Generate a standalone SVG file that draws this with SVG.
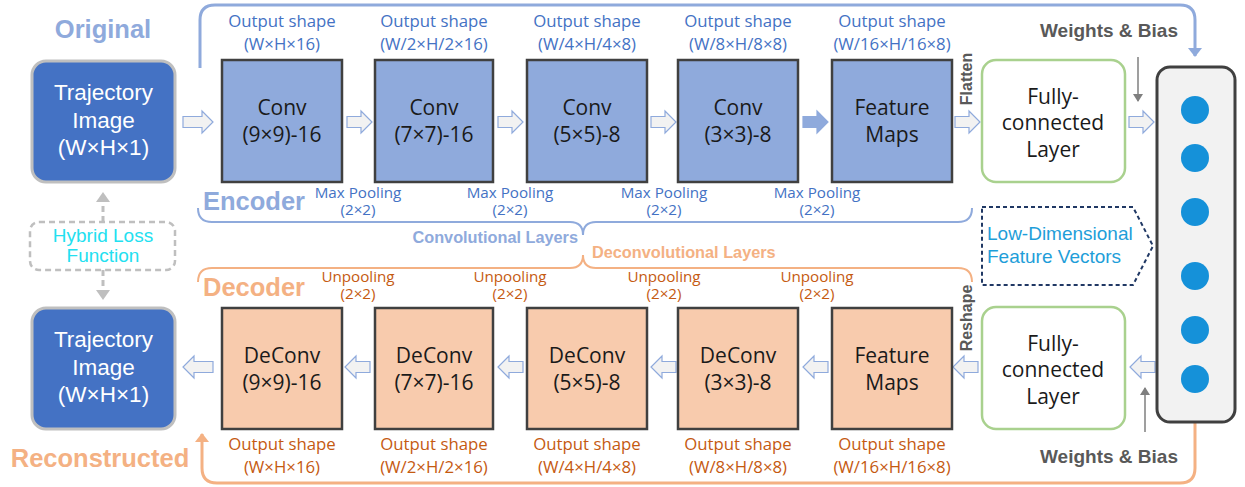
<svg xmlns="http://www.w3.org/2000/svg" width="1245" height="487" viewBox="0 0 1245 487">
<style>
.enc{fill:#8FAADC;stroke:#404040;stroke-width:2.5}
.dec{fill:#F8CBAD;stroke:#404040;stroke-width:2.5}
.traj{fill:#4472C4;stroke:#BFBFBF;stroke-width:3}
.fc{fill:#FFFFFF;stroke:#A9D18E;stroke-width:2.5}
.bt{font-family:"Open Sans","Noto Sans",sans-serif;font-size:21px;fill:#1a1a1a;text-anchor:middle}
.tt{font-family:"Liberation Sans",Arial,sans-serif;font-size:22.5px;fill:#FFFFFF;text-anchor:middle}
.bl{font-family:"Open Sans","Noto Sans",sans-serif;font-size:16.8px;fill:#4472C4;text-anchor:middle}
.or{font-family:"Open Sans","Noto Sans",sans-serif;font-size:16.8px;fill:#C55A11;text-anchor:middle}
.sm{font-size:15.2px}
.big{font-family:"Liberation Sans",Arial,sans-serif;font-weight:bold;font-size:25.5px}
.gb{font-family:"Liberation Sans",Arial,sans-serif;font-weight:bold;fill:#595959}
.ar{fill:#F2F2F2;stroke:#8FAADC;stroke-width:1.2}
.arf{fill:#8FAADC;stroke:#8FAADC;stroke-width:1.2}
</style>
<defs>
<path id="ra" d="M0,-5.5 H14 V-11 L25,0 L14,11 V5.5 H0 Z"/>
<path id="ral" d="M0,-5.5 H19 V-11 L30,0 L19,11 V5.5 H0 Z"/>
<marker id="mb" markerUnits="userSpaceOnUse" markerWidth="18" markerHeight="18" refX="8" refY="8" orient="auto"><path d="M0,1 L9,8 L0,15 Z" fill="#8FAADC"/></marker>
<marker id="mo" markerUnits="userSpaceOnUse" markerWidth="18" markerHeight="18" refX="8" refY="8" orient="auto"><path d="M0,1 L9,8 L0,15 Z" fill="#F4B183"/></marker>
<marker id="mg" markerUnits="userSpaceOnUse" markerWidth="14" markerHeight="14" refX="7" refY="6" orient="auto"><path d="M0,1 L8,6 L0,11 Z" fill="#7F7F7F"/></marker>
<marker id="ml" markerUnits="userSpaceOnUse" markerWidth="18" markerHeight="18" refX="8" refY="8" orient="auto"><path d="M0,1 L10,8 L0,15 Z" fill="#BFBFBF"/></marker>
</defs>

<g id="connectors">
<path d="M200,68 V20 Q200,5 215,5 H1180 Q1195,5 1195,20 V56" fill="none" stroke="#8FAADC" stroke-width="3" marker-end="url(#mb)"/>
<path d="M1195,422 V468 Q1195,483 1180,483 H217 Q202,483 202,468 V434" fill="none" stroke="#F4B183" stroke-width="3" marker-end="url(#mo)"/>
<path d="M198,208 Q198,222 212,222 H570 Q583,222 583,235 Q583,222 596,222 H958 Q972,222 972,208" fill="none" stroke="#8FAADC" stroke-width="2"/>
<path d="M198,282 Q198,268 212,268 H570 Q583,268 583,255 Q583,268 596,268 H958 Q972,268 972,282" fill="none" stroke="#F4B183" stroke-width="2"/>
<line x1="1138" y1="57" x2="1138" y2="101" stroke="#7F7F7F" stroke-width="1.5" marker-end="url(#mg)"/>
<line x1="1145" y1="432" x2="1145" y2="388" stroke="#7F7F7F" stroke-width="1.5" marker-end="url(#mg)"/>
<line x1="103" y1="222" x2="103" y2="194" stroke="#BFBFBF" stroke-width="3" stroke-dasharray="6,4" marker-end="url(#ml)"/>
<line x1="103" y1="270" x2="103" y2="298" stroke="#BFBFBF" stroke-width="3" stroke-dasharray="6,4" marker-end="url(#ml)"/>
<use href="#ral" class="ar" transform="translate(183,122)"/>
<use href="#ra" class="ar" transform="translate(347,122)"/>
<use href="#ra" class="ar" transform="translate(498,122)"/>
<use href="#ra" class="ar" transform="translate(651,122)"/>
<use href="#ra" class="arf" transform="translate(803,122)"/>
<use href="#ra" class="ar" transform="translate(955,122)"/>
<use href="#ra" class="ar" transform="translate(1129,122)"/>
<use href="#ral" class="ar" transform="translate(213,367) scale(-1,1)"/>
<use href="#ra" class="ar" transform="translate(370,367) scale(-1,1)"/>
<use href="#ra" class="ar" transform="translate(523,367) scale(-1,1)"/>
<use href="#ra" class="ar" transform="translate(676,367) scale(-1,1)"/>
<use href="#ra" class="ar" transform="translate(828,367) scale(-1,1)"/>
<use href="#ra" class="ar" transform="translate(978,367) scale(-1,1)"/>
<use href="#ra" class="ar" transform="translate(1155,367) scale(-1,1)"/>
</g>

<g id="labels">
<text x="103" y="38" class="big" fill="#8FAADC" text-anchor="middle">Original</text>
<text x="203" y="210" class="big" fill="#8FAADC">Encoder</text>
<text x="203" y="296" class="big" fill="#F4B183">Decoder</text>
<text x="100" y="467" class="big" fill="#F4B183" text-anchor="middle">Reconstructed</text>
<text x="578" y="243" class="gb" font-size="16.3" style="fill:#8FAADC" text-anchor="end">Convolutional Layers</text>
<text x="592" y="258" class="gb" font-size="16.3" style="fill:#F4B183">Deconvolutional Layers</text>
<text x="1109" y="37" class="gb" font-size="19" text-anchor="middle">Weights &amp; Bias</text>
<text x="1109" y="463" class="gb" font-size="19" text-anchor="middle">Weights &amp; Bias</text>
<text transform="translate(972,79) rotate(-90)" class="gb" font-size="16" text-anchor="middle">Flatten</text>
<text transform="translate(972,318) rotate(-90)" class="gb" font-size="16" text-anchor="middle">Reshape</text>

<text x="282" y="27" class="bl">Output shape</text><text x="282" y="50" class="bl">(W×H×16)</text>
<text x="434" y="27" class="bl">Output shape</text><text x="434" y="50" class="bl">(W/2×H/2×16)</text>
<text x="587" y="27" class="bl">Output shape</text><text x="587" y="50" class="bl">(W/4×H/4×8)</text>
<text x="738" y="27" class="bl">Output shape</text><text x="738" y="50" class="bl">(W/8×H/8×8)</text>
<text x="892" y="27" class="bl">Output shape</text><text x="892" y="50" class="bl">(W/16×H/16×8)</text>

<text x="358" y="198" class="bl sm">Max Pooling</text><text x="358" y="215" class="bl sm">(2×2)</text>
<text x="510" y="198" class="bl sm">Max Pooling</text><text x="510" y="215" class="bl sm">(2×2)</text>
<text x="664" y="198" class="bl sm">Max Pooling</text><text x="664" y="215" class="bl sm">(2×2)</text>
<text x="817" y="198" class="bl sm">Max Pooling</text><text x="817" y="215" class="bl sm">(2×2)</text>

<text x="358" y="282" class="or sm">Unpooling</text><text x="358" y="299" class="or sm">(2×2)</text>
<text x="510" y="282" class="or sm">Unpooling</text><text x="510" y="299" class="or sm">(2×2)</text>
<text x="664" y="282" class="or sm">Unpooling</text><text x="664" y="299" class="or sm">(2×2)</text>
<text x="817" y="282" class="or sm">Unpooling</text><text x="817" y="299" class="or sm">(2×2)</text>

<text x="282" y="450" class="or">Output shape</text><text x="282" y="473" class="or">(W×H×16)</text>
<text x="434" y="450" class="or">Output shape</text><text x="434" y="473" class="or">(W/2×H/2×16)</text>
<text x="587" y="450" class="or">Output shape</text><text x="587" y="473" class="or">(W/4×H/4×8)</text>
<text x="738" y="450" class="or">Output shape</text><text x="738" y="473" class="or">(W/8×H/8×8)</text>
<text x="892" y="450" class="or">Output shape</text><text x="892" y="473" class="or">(W/16×H/16×8)</text>
</g>

<g id="traj-in"><rect x="32" y="61" width="143" height="121" rx="14" class="traj"/>
<text x="103.5" y="100" class="tt">Trajectory</text><text x="103.5" y="128" class="tt">Image</text><text x="103.5" y="155" class="tt" font-size="19.5">(W×H×1)</text></g>
<g id="traj-out"><rect x="32" y="308" width="143" height="121" rx="14" class="traj"/>
<text x="103.5" y="347" class="tt">Trajectory</text><text x="103.5" y="375" class="tt">Image</text><text x="103.5" y="402" class="tt" font-size="19.5">(W×H×1)</text></g>

<g id="loss"><rect x="30" y="222" width="145" height="48" rx="9" fill="none" stroke="#BFBFBF" stroke-width="2.5" stroke-dasharray="6,4"/>
<text x="103" y="242" font-family="Liberation Sans,Arial,sans-serif" font-size="19" fill="#22E0F0" text-anchor="middle">Hybrid Loss</text>
<text x="103" y="262" font-family="Liberation Sans,Arial,sans-serif" font-size="19" fill="#22E0F0" text-anchor="middle">Function</text></g>

<g id="conv1"><rect x="222" y="60" width="120" height="122" class="enc"/><text x="282" y="115" class="bt">Conv</text><text x="282" y="142" class="bt">(9×9)-16</text></g>
<g id="conv2"><rect x="375" y="60" width="118" height="122" class="enc"/><text x="434" y="115" class="bt">Conv</text><text x="434" y="142" class="bt">(7×7)-16</text></g>
<g id="conv3"><rect x="527" y="60" width="120" height="122" class="enc"/><text x="587" y="115" class="bt">Conv</text><text x="587" y="142" class="bt">(5×5)-8</text></g>
<g id="conv4"><rect x="678" y="60" width="120" height="122" class="enc"/><text x="738" y="115" class="bt">Conv</text><text x="738" y="142" class="bt">(3×3)-8</text></g>
<g id="fmap-enc"><rect x="832" y="60" width="120" height="122" class="enc"/><text x="892" y="115" class="bt">Feature</text><text x="892" y="142" class="bt">Maps</text></g>

<g id="deconv1"><rect x="222" y="308" width="120" height="121" class="dec"/><text x="282" y="363" class="bt">DeConv</text><text x="282" y="390" class="bt">(9×9)-16</text></g>
<g id="deconv2"><rect x="375" y="308" width="118" height="121" class="dec"/><text x="434" y="363" class="bt">DeConv</text><text x="434" y="390" class="bt">(7×7)-16</text></g>
<g id="deconv3"><rect x="527" y="308" width="120" height="121" class="dec"/><text x="587" y="363" class="bt">DeConv</text><text x="587" y="390" class="bt">(5×5)-8</text></g>
<g id="deconv4"><rect x="678" y="308" width="120" height="121" class="dec"/><text x="738" y="363" class="bt">DeConv</text><text x="738" y="390" class="bt">(3×3)-8</text></g>
<g id="fmap-dec"><rect x="832" y="308" width="120" height="121" class="dec"/><text x="892" y="363" class="bt">Feature</text><text x="892" y="390" class="bt">Maps</text></g>

<g id="fc-enc"><rect x="982" y="60" width="143" height="122" rx="14" class="fc"/>
<text x="1053" y="104" class="bt">Fully-</text><text x="1053" y="130" class="bt">connected</text><text x="1053" y="157" class="bt">Layer</text></g>
<g id="fc-dec"><rect x="982" y="307" width="143" height="122" rx="14" class="fc"/>
<text x="1053" y="351" class="bt">Fully-</text><text x="1053" y="377" class="bt">connected</text><text x="1053" y="404" class="bt">Layer</text></g>

<g id="lowdim"><path d="M982,207 H1133 L1153,246 L1133,285 H982 Z" fill="none" stroke="#203864" stroke-width="2" stroke-dasharray="4,3"/>
<text x="987" y="240" font-family="Liberation Sans,Arial,sans-serif" font-size="19" fill="#1E9ED9">Low-Dimensional</text>
<text x="987" y="263" font-family="Liberation Sans,Arial,sans-serif" font-size="19" fill="#1E9ED9">Feature Vectors</text></g>

<g id="vector"><rect x="1157" y="67" width="78" height="355" rx="13" fill="#F2F2F2" stroke="#404040" stroke-width="3"/>
<g fill="#1591D9"><circle cx="1195" cy="110" r="14"/><circle cx="1195" cy="158" r="14"/><circle cx="1195" cy="212" r="14"/><circle cx="1195" cy="276" r="14"/><circle cx="1195" cy="330" r="14"/><circle cx="1195" cy="379" r="14"/></g></g>
</svg>
